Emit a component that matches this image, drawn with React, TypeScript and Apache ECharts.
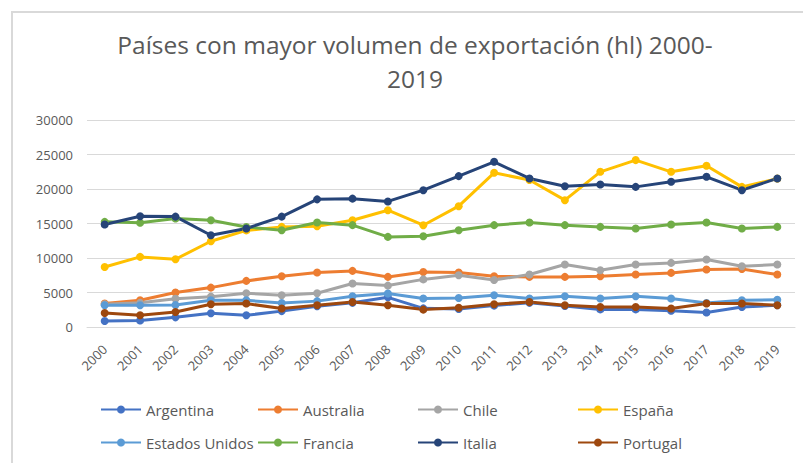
import React, { useEffect, useRef } from "react";
import * as echarts from "echarts";

const years = ["2000","2001","2002","2003","2004","2005","2006","2007","2008","2009","2010","2011","2012","2013","2014","2015","2016","2017","2018","2019"];

const argentina = [870, 950, 1400, 2000, 1700, 2300, 3000, 3500, 4300, 2700, 2600, 3100, 3500, 3050, 2550, 2550, 2350, 2100, 2900, 3150];
const australia = [3400, 3870, 4990, 5710, 6680, 7360, 7890, 8130, 7260, 7980, 7900, 7360, 7260, 7260, 7360, 7600, 7840, 8330, 8400, 7600];
const chile = [3300, 3500, 4100, 4400, 4900, 4600, 4900, 6300, 6000, 6900, 7500, 6800, 7600, 9050, 8230, 9050, 9290, 9780, 8810, 9050];
const espana = [8700, 10160, 9820, 12430, 14000, 14510, 14600, 15480, 16930, 14750, 17510, 22350, 21300, 18380, 22490, 24190, 22490, 23360, 20310, 21500];
const estadosUnidos = [3150, 3150, 3200, 3870, 3870, 3480, 3750, 4450, 4850, 4120, 4200, 4600, 4120, 4450, 4120, 4450, 4120, 3480, 3870, 3950];
const francia = [15240, 15100, 15730, 15480, 14500, 14030, 15150, 14760, 13060, 13150, 14030, 14760, 15150, 14760, 14510, 14280, 14860, 15150, 14280, 14510];
const italia = [14860, 16060, 16000, 13300, 14280, 16000, 18500, 18600, 18200, 19830, 21870, 23940, 21530, 20410, 20660, 20310, 21040, 21770, 19830, 21530];
const portugal = [2030, 1700, 2180, 3290, 3400, 2670, 3150, 3630, 3150, 2520, 2800, 3290, 3630, 3150, 2900, 2900, 2670, 3400, 3400, 3150];

const seriesNames = ["Argentina", "Australia", "Chile", "España", "Estados Unidos", "Francia", "Italia", "Portugal"];
const seriesData = [argentina, australia, chile, espana, estadosUnidos, francia, italia, portugal];
const colors = ["#4472C4", "#ED7D31", "#A5A5A5", "#FFC000", "#5B9BD5", "#70AD47", "#264478", "#9E480E"];

const TEXT = "#595959";
const FONT = "'Open Sans', 'Noto Sans', sans-serif";

export default function App() {
  const ref = useRef<HTMLDivElement>(null);
  useEffect(() => {
    if (!ref.current) return;
    const chart = echarts.init(ref.current, undefined, { renderer: "svg" });
    const legendCols = [100, 257, 417, 577];
    const legendRows = [402, 435];
    const legends = seriesNames.map((n, i) => ({
      data: [n],
      left: legendCols[i % 4],
      top: legendRows[Math.floor(i / 4)],
      itemWidth: 40,
      itemHeight: 10,
      itemGap: 0,
      padding: 0,
      textStyle: { color: TEXT, fontSize: 15, fontFamily: FONT },
    }));
    chart.setOption({
      animation: false,
      backgroundColor: "#ffffff",
      color: colors,
      title: {
        text: "Países con mayor volumen de exportación (hl) 2000-\n2019",
        left: 410,
        top: 22,
        textAlign: "center",
        textStyle: {
          color: TEXT,
          fontSize: 24.5,
          fontWeight: "normal",
          fontFamily: FONT,
          lineHeight: 34,
        },
      },
      graphic: [
        {
          type: "polyline",
          shape: { points: [[12, 470], [12, 12], [810, 12]] },
          style: { stroke: "#d9d9d9", lineWidth: 2, fill: "none" },
          silent: true,
        },
      ],
      legend: legends,
      grid: { left: 87, right: 8, top: 120, bottom: 136 },
      xAxis: {
        type: "category",
        data: years,
        boundaryGap: true,
        axisLine: { lineStyle: { color: "#d9d9d9", width: 1 } },
        axisTick: { show: false },
        axisLabel: {
          rotate: 45,
          color: TEXT,
          fontSize: 13,
          fontFamily: FONT,
          margin: 20,
          interval: 0,
        },
      },
      yAxis: {
        type: "value",
        min: 0,
        max: 30000,
        interval: 5000,
        axisLine: { show: false },
        axisTick: { show: false },
        splitLine: { lineStyle: { color: "#d9d9d9", width: 1 } },
        axisLabel: {
          color: TEXT,
          fontSize: 13,
          fontFamily: FONT,
          margin: 14,
          formatter: (v: number) => String(v),
        },
      },
      series: seriesNames.map((n, i) => ({
        name: n,
        type: "line",
        data: seriesData[i],
        symbol: "circle",
        symbolSize: 8,
        lineStyle: { width: 3, color: colors[i] },
        itemStyle: { color: colors[i] },
      })),
    });
    return () => chart.dispose();
  }, []);
  return (
    <div
      ref={ref}
      style={{ position: "fixed", left: 0, top: 0, width: 803, height: 463 }}
    />
  );
}
